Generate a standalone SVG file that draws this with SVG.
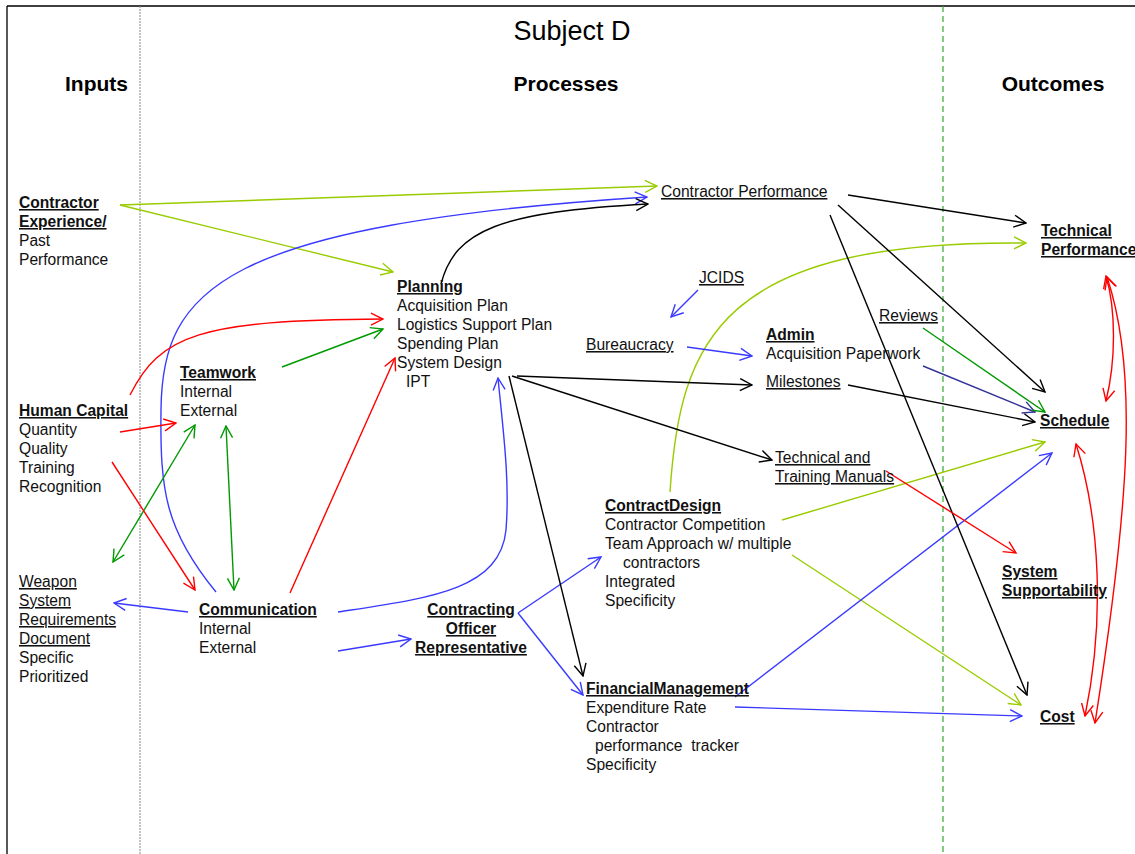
<svg xmlns="http://www.w3.org/2000/svg" width="1135" height="854" viewBox="0 0 1135 854">
<style>
.t{font-family:"Liberation Sans",Arial,sans-serif;font-size:15.6px;fill:#111}
.b{font-weight:bold;text-decoration:underline}
.u{text-decoration:underline}
.h{font-family:"Liberation Sans",Arial,sans-serif;font-size:21px;font-weight:bold;fill:#000}
.c{fill:none;stroke-width:1.4}
.k{stroke:#000;marker-end:url(#mk)}
.y{stroke:#99cc00;marker-end:url(#my)}
.bl{stroke:#3a3aff;marker-end:url(#mb)}
.r{stroke:#ff0000;marker-end:url(#mr)}
.g{stroke:#009900;marker-end:url(#mg)}
.n{stroke:#333399;marker-end:url(#mn)}
.rd{marker-start:url(#mr)}
.gd{marker-start:url(#mg)}
</style>
<defs>
<marker id="mk" viewBox="0 0 14 14" refX="13" refY="7" markerWidth="14" markerHeight="14" markerUnits="userSpaceOnUse" orient="auto-start-reverse"><path d="M1,1 L13,7 L1,13" fill="none" stroke="#000" stroke-width="1.4"/></marker>
<marker id="my" viewBox="0 0 14 14" refX="13" refY="7" markerWidth="14" markerHeight="14" markerUnits="userSpaceOnUse" orient="auto-start-reverse"><path d="M1,1 L13,7 L1,13" fill="none" stroke="#99cc00" stroke-width="1.4"/></marker>
<marker id="mb" viewBox="0 0 14 14" refX="13" refY="7" markerWidth="14" markerHeight="14" markerUnits="userSpaceOnUse" orient="auto-start-reverse"><path d="M1,1 L13,7 L1,13" fill="none" stroke="#3a3aff" stroke-width="1.4"/></marker>
<marker id="mr" viewBox="0 0 14 14" refX="13" refY="7" markerWidth="14" markerHeight="14" markerUnits="userSpaceOnUse" orient="auto-start-reverse"><path d="M1,1 L13,7 L1,13" fill="none" stroke="#ff0000" stroke-width="1.4"/></marker>
<marker id="mg" viewBox="0 0 14 14" refX="13" refY="7" markerWidth="14" markerHeight="14" markerUnits="userSpaceOnUse" orient="auto-start-reverse"><path d="M1,1 L13,7 L1,13" fill="none" stroke="#009900" stroke-width="1.4"/></marker>
<marker id="mn" viewBox="0 0 14 14" refX="13" refY="7" markerWidth="14" markerHeight="14" markerUnits="userSpaceOnUse" orient="auto-start-reverse"><path d="M1,1 L13,7 L1,13" fill="none" stroke="#333399" stroke-width="1.4"/></marker>
</defs>
<rect width="1135" height="854" fill="#fff"/>
<g id="frame">
<path d="M7,6 H1135 M7,6 V854" stroke="#000" stroke-width="1.3" fill="none"/>
<path d="M140,6 V854" stroke="#888" stroke-width="1" stroke-dasharray="2,1" fill="none"/>
<path d="M943,6 V854" stroke="#33aa33" stroke-width="1.2" stroke-dasharray="6,4" fill="none"/>
</g>
<g id="headers">
<text x="572" y="40" text-anchor="middle" font-family="Liberation Sans, Arial, sans-serif" font-size="27" fill="#000">Subject D</text>
<text class="h" x="128" y="91" text-anchor="end">Inputs</text>
<text class="h" x="566" y="91" text-anchor="middle">Processes</text>
<text class="h" x="1053" y="91" text-anchor="middle">Outcomes</text>
</g>
<g id="connectors">
<path class="c y" d="M120,205 L657,186"/>
<path class="c y" d="M120,205 L393,272"/>
<path class="c y" d="M670,492 C680,340 720,240 1026,243"/>
<path class="c y" d="M782,520 L1045,442"/>
<path class="c y" d="M792,555 L1021,705"/>
<path class="c bl" d="M216,592 C165,530 160,490 161,410 C162,290 220,225 647,197"/>
<path class="c bl" d="M338,612 C430,598 500,590 506,530 C510,480 503,430 498,378"/>
<path class="c bl" d="M338,651 L411,639"/>
<path class="c bl" d="M518,613 L601,557"/>
<path class="c bl" d="M518,613 L583,695"/>
<path class="c bl" d="M698,290 L671,317"/>
<path class="c bl" d="M687,347 L752,356"/>
<path class="c bl" d="M735,697 L1052,453"/>
<path class="c bl" d="M735,707 L1022,716"/>
<path class="c bl" d="M188,612 L114,603"/>
<path class="c n" d="M923,366 L1035,412"/>
<path class="c k" d="M441,284 C455,230 500,212 648,204"/>
<path class="c k" d="M848,195 L1026,223"/>
<path class="c k" d="M838,205 L1045,392"/>
<path class="c k" d="M830,215 L1027,695"/>
<path class="c k" d="M509,376 L583,676"/>
<path class="c k" d="M517,376 L752,385"/>
<path class="c k" d="M512,376 L772,460"/>
<path class="c k" d="M848,385 L1035,422"/>
<path class="c g" d="M282,367 L383,329"/>
<path class="c g gd" d="M195,425 L113,562"/>
<path class="c g gd" d="M226,426 L234,590"/>
<path class="c g" d="M923,328 L1045,412"/>
<path class="c r" d="M130,395 C160,335 200,320 383,319"/>
<path class="c r" d="M120,432 L176,423"/>
<path class="c r" d="M112,462 L195,590"/>
<path class="c r" d="M290,593 L395,358"/>
<path class="c r" d="M886,471 L1016,553"/>
<path class="c r rd" d="M1106,276 C1116,310 1116,360 1106,401"/>
<path class="c r rd" d="M1107,277 C1138,370 1130,500 1095,723"/>
<path class="c r rd" d="M1076,444 C1100,520 1105,620 1085,716"/>
</g>
<g id="contractor-experience"><text class="t" x="19" y="208"><tspan class="b">Contractor</tspan><tspan x="19" dy="19" class="b">Experience/</tspan><tspan x="19" dy="19">Past</tspan><tspan x="19" dy="19">Performance</tspan></text></g>
<g id="human-capital"><text class="t" x="19" y="416"><tspan class="b">Human Capital</tspan><tspan x="19" dy="19">Quantity</tspan><tspan x="19" dy="19">Quality</tspan><tspan x="19" dy="19">Training</tspan><tspan x="19" dy="19">Recognition</tspan></text></g>
<g id="weapon-system"><text class="t" x="19" y="587"><tspan class="u">Weapon</tspan><tspan x="19" dy="19" class="u">System</tspan><tspan x="19" dy="19" class="u">Requirements</tspan><tspan x="19" dy="19" class="u">Document</tspan><tspan x="19" dy="19">Specific</tspan><tspan x="19" dy="19">Prioritized</tspan></text></g>
<g id="teamwork"><text class="t" x="180" y="378"><tspan class="b">Teamwork</tspan><tspan x="180" dy="19">Internal</tspan><tspan x="180" dy="19">External</tspan></text></g>
<g id="communication"><text class="t" x="199" y="615"><tspan class="b">Communication</tspan><tspan x="199" dy="19">Internal</tspan><tspan x="199" dy="19">External</tspan></text></g>
<g id="planning"><text class="t" x="397" y="292"><tspan class="b">Planning</tspan><tspan x="397" dy="19">Acquisition Plan</tspan><tspan x="397" dy="19">Logistics Support Plan</tspan><tspan x="397" dy="19">Spending Plan</tspan><tspan x="397" dy="19">System Design</tspan><tspan x="406" dy="19">IPT</tspan></text></g>
<g id="contractor-performance"><text class="t u" x="661" y="197">Contractor Performance</text></g>
<g id="jcids"><text class="t u" x="699" y="283">JCIDS</text></g>
<g id="bureaucracy"><text class="t u" x="586" y="350">Bureaucracy</text></g>
<g id="admin"><text class="t" x="766" y="340"><tspan class="b">Admin</tspan><tspan x="766" dy="19">Acquisition Paperwork</tspan></text></g>
<g id="milestones"><text class="t u" x="766" y="387">Milestones</text></g>
<g id="reviews"><text class="t u" x="879" y="321">Reviews</text></g>
<g id="manuals"><text class="t u" x="775" y="463"><tspan>Technical and</tspan><tspan x="775" dy="19">Training Manuals</tspan></text></g>
<g id="contract-design"><text class="t" x="605" y="511"><tspan class="b">ContractDesign</tspan><tspan x="605" dy="19">Contractor Competition</tspan><tspan x="605" dy="19">Team Approach w/ multiple</tspan><tspan x="623" dy="19">contractors</tspan><tspan x="605" dy="19">Integrated</tspan><tspan x="605" dy="19">Specificity</tspan></text></g>
<g id="contracting-officer"><text class="t b" x="471" y="615" text-anchor="middle"><tspan>Contracting</tspan><tspan x="471" dy="19">Officer</tspan><tspan x="471" dy="19">Representative</tspan></text></g>
<g id="financial-management"><text class="t" x="586" y="694"><tspan class="b">FinancialManagement</tspan><tspan x="586" dy="19">Expenditure Rate</tspan><tspan x="586" dy="19">Contractor</tspan><tspan x="595" dy="19">performance&#160; tracker</tspan><tspan x="586" dy="19">Specificity</tspan></text></g>
<g id="technical-performance"><text class="t b" x="1041" y="236"><tspan>Technical</tspan><tspan x="1041" dy="19">Performance</tspan></text></g>
<g id="schedule"><text class="t b" x="1040" y="426">Schedule</text></g>
<g id="system-supportability"><text class="t b" x="1002" y="577"><tspan>System</tspan><tspan x="1002" dy="19">Supportability</tspan></text></g>
<g id="cost"><text class="t b" x="1040" y="722">Cost</text></g>
</svg>
